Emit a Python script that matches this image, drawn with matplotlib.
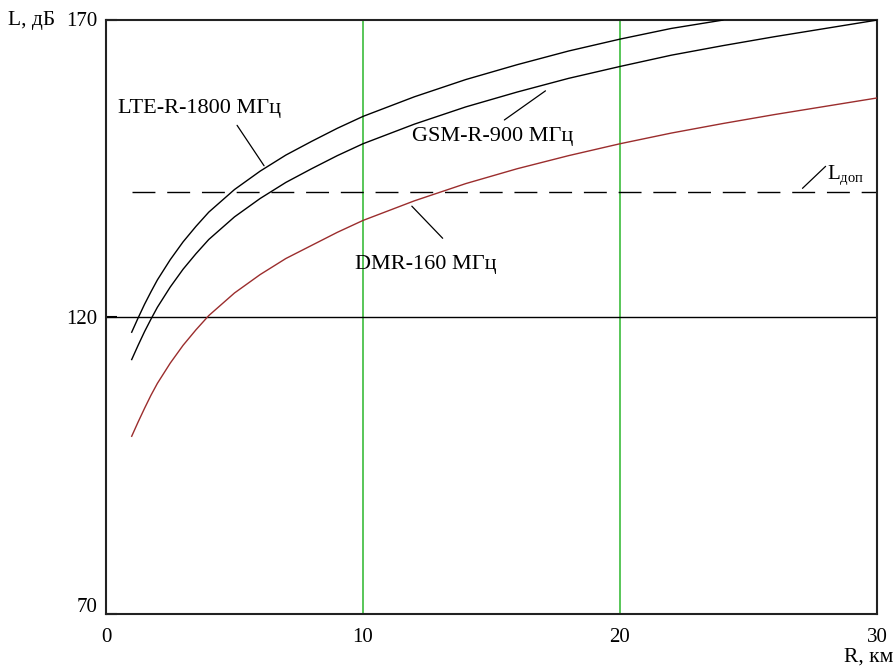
import matplotlib
matplotlib.use("Agg")
from matplotlib import pyplot as plt

plt.rcParams['font.family'] = ['Liberation Serif', 'DejaVu Serif']
plt.rcParams['mathtext.fontset'] = 'custom'
plt.rcParams['mathtext.rm'] = 'Liberation Serif'

# distance, km
R = [1, 1.25, 1.5, 1.75, 2, 2.5, 3, 3.5, 4, 5, 6, 7, 8, 9, 10, 12, 14, 16, 18, 20,
     22, 24, 26, 28, 30]
# path loss, dB
L_lte = [117.4, 119.8, 122.1, 124.2, 126.2, 129.6, 132.6, 135.2, 137.6, 141.4, 144.5,
         147.2, 149.5, 151.7, 153.7, 157.0, 159.9, 162.4, 164.7, 166.7, 168.5, 169.9]
L_gsm = [112.8, 115.2, 117.5, 119.6, 121.6, 125.0, 128.0, 130.6, 133.0, 136.8, 139.9,
         142.6, 144.9, 147.1, 149.1, 152.4, 155.3, 157.8, 160.1, 162.1, 164.0, 165.6,
         167.1, 168.5, 169.9]
L_dmr = [99.9, 102.3, 104.6, 106.8, 108.8, 112.2, 115.2, 117.8, 120.2, 124.0, 127.1,
         129.8, 132.0, 134.2, 136.2, 139.5, 142.4, 144.9, 147.1, 149.1, 150.9, 152.5,
         154.0, 155.4, 156.8]
L_dop = 141.0

x_ticks = [0, 10, 20, 30]
y_ticks = [70, 120, 170]

W, H = 895, 671
fig = plt.figure(figsize=(W / 100, H / 100), dpi=100)
ax = fig.add_axes([106 / W, 1 - 614 / H, (877 - 106) / W, (614 - 19.5) / H])

ax.set_xlim(0, 30)
ax.set_ylim(70, 170)

# grid lines like in Mathcad
for xv in [10, 20]:
    ax.axvline(xv, color='#3cbc3c', lw=1.2, zorder=1)
ax.axhline(120, color='black', lw=1.0, zorder=1)

ax.plot(R[:len(L_lte)], L_lte, color='black', lw=1.0, zorder=3)
ax.plot(R, L_gsm, color='black', lw=1.0, zorder=3)
ax.plot(R, L_dmr, color='#9b2d2d', lw=1.0, zorder=3)
ax.plot([R[0], R[-1]], [L_dop, L_dop], color='black', lw=1.0,
        dashes=(16.5, 8.5), zorder=2)

ax.set_xticks(x_ticks)
ax.set_yticks(y_ticks)
ax.set_xticklabels([str(v) for v in x_ticks])
ax.set_yticklabels(['', '120', '170'])
ax.tick_params(direction='in', length=8, width=1.5, labelsize=15, pad=7)
ax.tick_params(axis='x', length=0, pad=10)
ax.tick_params(axis='y', pad=6)
for s in ax.spines.values():
    s.set_linewidth(1.5)
    s.set_color('#222222')

fig.text(98 / W, 1 - 607 / H, '70', fontsize=15, ha='right', va='center')
fig.text(8 / W, 1 - 20 / H, 'L, дБ', fontsize=15.5, ha='left', va='center')
fig.text(893 / W, 1 - 657 / H, 'R, км', fontsize=15.5, ha='right', va='center')

lead = dict(arrowstyle='-', color='black', lw=0.9, shrinkA=0, shrinkB=0)
ax.text(0.47, 155.1, 'LTE-R-1800 МГц', fontsize=16, ha='left', va='center')
ax.annotate('', xy=(6.15, 145.4), xytext=(5.1, 152.2), arrowprops=lead)
ax.text(11.9, 150.4, 'GSM-R-900 МГц', fontsize=16, ha='left', va='center')
ax.annotate('', xy=(17.1, 158.0), xytext=(15.5, 153.1), arrowprops=lead)
ax.text(9.69, 128.8, 'DMR-160 МГц', fontsize=16, ha='left', va='center')
ax.annotate('', xy=(11.9, 138.6), xytext=(13.1, 133.2), arrowprops=lead)
ax.text(28.05, 143.6, r'L$_{\rm доп}$', fontsize=15, ha='left', va='center')
ax.annotate('', xy=(28.0, 145.3), xytext=(27.1, 141.6), arrowprops=lead)

fig.savefig('out.png', dpi=100)
